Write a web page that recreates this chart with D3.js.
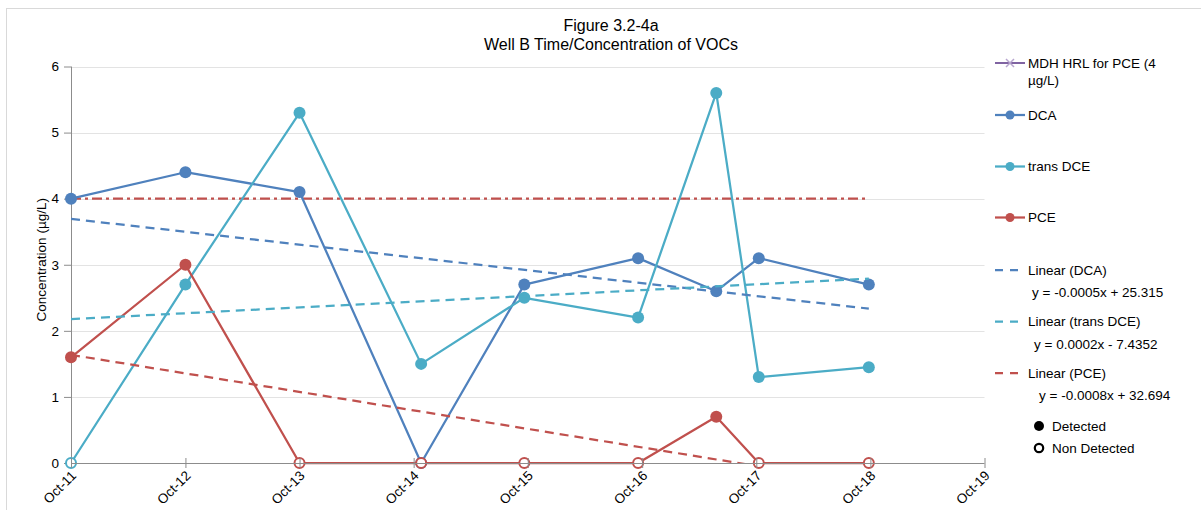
<!DOCTYPE html>
<html>
<head>
<meta charset="utf-8">
<script src="https://cdn.jsdelivr.net/npm/d3@7"></script>
<style>
  html, body { margin: 0; padding: 0; background: #fff; }
  svg { display: block; font-family: "Liberation Sans", Arial, sans-serif; }
</style>
</head>
<body>
<svg id="chart" width="1201" height="510"></svg>
<script>
// Sampling dates for Well B
const sampleDates = ["2011-10-01", "2012-10-01", "2013-10-01", "2014-10-25", "2015-09-20",
                     "2016-09-18", "2017-05-26", "2017-10-09", "2018-09-26"];

// Concentrations (µg/L); a 0 flag marks a non-detect
const dcaValues = [4.0, 4.4, 4.1, 0, 2.7, 3.1, 2.6, 3.1, 2.7];
const dcaDetected = [1, 1, 1, 0, 1, 1, 1, 1, 1];
const transDceValues = [0, 2.7, 5.3, 1.5, 2.5, 2.2, 5.6, 1.3, 1.45];
const transDceDetected = [0, 1, 1, 1, 1, 1, 1, 1, 1];
const pceValues = [1.6, 3.0, 0, 0, 0, 0, 0.7, 0, 0];
const pceDetected = [1, 1, 0, 0, 0, 0, 1, 0, 0];

// MDH health risk limit for PCE
const hrlValues = [4, 4, 4, 4, 4, 4, 4, 4, 4];

// Axis ticks
const xTickLabels = ["Oct-11", "Oct-12", "Oct-13", "Oct-14", "Oct-15", "Oct-16", "Oct-17", "Oct-18", "Oct-19"];
const yTicks = [0, 1, 2, 3, 4, 5, 6];

// Legend text
const seriesNames = ["MDH HRL for PCE (4 µg/L)", "DCA", "trans DCE", "PCE"];
const trendNames = ["Linear (DCA)", "Linear (trans DCE)", "Linear (PCE)"];
const trendEquations = ["y = -0.0005x + 25.315", "y = 0.0002x - 7.4352", "y = -0.0008x + 32.694"];
const markerKeys = ["Detected", "Non Detected"];

const titleLines = ["Figure 3.2-4a", "Well B Time/Concentration of VOCs"];
const yAxisTitle = "Concentration (µg/L)";

const colors = { hrl: "#C0504D", hrlKey: "#8064A2", dca: "#4F81BD", tdce: "#4BACC6", pce: "#C0504D" };

const parse = d3.utcParse("%Y-%m-%d");
const dates = sampleDates.map(parse);
const tickDates = xTickLabels.map(s => {
  const yy = +s.slice(4);
  return new Date(Date.UTC(2000 + yy, 9, 1));
});

const svg = d3.select("#chart");
const W = 1201, H = 510;
const plot = { left: 71, right: 984.5, top: 66.5, bottom: 463 };

svg.append("rect").attr("width", W).attr("height", H).attr("fill", "#fff");
svg.append("rect").attr("x", 6.5).attr("y", 8.5).attr("width", W + 10).attr("height", H + 10)
  .attr("fill", "none").attr("stroke", "#d9d9d9").attr("stroke-width", 1);

const x = d3.scaleUtc().domain([tickDates[0], tickDates[tickDates.length - 1]]).range([plot.left, plot.right]);
const y = d3.scaleLinear().domain([0, 6]).range([plot.bottom, plot.top]);

// Title
const title = svg.append("text").attr("text-anchor", "middle").attr("font-size", 16).attr("fill", "#000");
titleLines.forEach((t, i) => {
  title.append("tspan").attr("x", 611).attr("y", 31 + i * 19).text(t);
});

// Horizontal gridlines
svg.append("g").selectAll("line").data(yTicks.filter(v => v > 0)).join("line")
  .attr("x1", plot.left).attr("x2", plot.right)
  .attr("y1", d => Math.round(y(d)) + 0.5).attr("y2", d => Math.round(y(d)) + 0.5)
  .attr("stroke", "#e3e3e3").attr("stroke-width", 1);

// Y axis
const yAxis = d3.axisLeft(y).tickValues(yTicks).tickSize(7).tickPadding(5).tickFormat(d3.format("d"));
const gy = svg.append("g").attr("transform", `translate(${plot.left},0)`).call(yAxis);
gy.select(".domain").attr("stroke", "#8c8c8c").attr("d", `M0.5,${plot.top}V${plot.bottom}`);
gy.selectAll(".tick line").attr("stroke", "#8c8c8c");
gy.selectAll(".tick text").attr("font-size", 13.5).attr("fill", "#000").attr("font-family", "Liberation Sans, Arial, sans-serif");

// Y axis title
svg.append("text").attr("transform", `translate(46,${(plot.top + plot.bottom) / 2 - 5}) rotate(-90)`)
  .attr("text-anchor", "middle").attr("font-size", 13.5).attr("fill", "#000").text(yAxisTitle);

// Clip area for trendlines
svg.append("clipPath").attr("id", "plotClip").append("rect")
  .attr("x", plot.left).attr("y", plot.top).attr("width", plot.right - plot.left).attr("height", plot.bottom - plot.top);

const lineGen = d3.line().x(d => x(d.date)).y(d => y(d.value));
const rows = vals => vals.map((v, i) => ({ date: dates[i], value: v }));

// HRL reference line
svg.append("path").datum(rows(hrlValues)).attr("d", lineGen)
  .attr("fill", "none").attr("stroke", colors.hrl).attr("stroke-width", 2.25)
  .attr("stroke-dasharray", "10,4,3,4");

// Excel-style linear trend on date serial numbers
const excelSerial = d => d.getTime() / 86400000 + 25569;
function linearFit(vals) {
  const xs = dates.map(excelSerial);
  const mx = d3.mean(xs), my = d3.mean(vals);
  let sxy = 0, sxx = 0;
  xs.forEach((xv, i) => { sxy += (xv - mx) * (vals[i] - my); sxx += (xv - mx) * (xv - mx); });
  const slope = sxy / sxx;
  const intercept = my - slope * mx;
  return [dates[0], dates[dates.length - 1]].map(d => ({ date: d, value: slope * excelSerial(d) + intercept }));
}

const series = [
  { key: "dca", values: dcaValues, detected: dcaDetected, color: colors.dca },
  { key: "tdce", values: transDceValues, detected: transDceDetected, color: colors.tdce },
  { key: "pce", values: pceValues, detected: pceDetected, color: colors.pce }
];

// Series lines and markers
series.forEach(s => {
  const g = svg.append("g");
  g.append("path").datum(rows(s.values)).attr("d", lineGen)
    .attr("fill", "none").attr("stroke", s.color).attr("stroke-width", 2.25).attr("stroke-linejoin", "round");
  const pts = rows(s.values).map((r, i) => ({ ...r, det: s.detected[i] }));
  g.selectAll("circle").data(pts).join("circle")
    .attr("cx", d => x(d.date)).attr("cy", d => y(d.value))
    .attr("r", d => d.det ? 6 : 5)
    .attr("fill", d => d.det ? s.color : "#fff")
    .attr("stroke", s.color)
    .attr("stroke-width", d => d.det ? 0 : 2);
});

// Trendlines
const trendGroup = svg.append("g").attr("clip-path", "url(#plotClip)");
series.forEach(s => {
  trendGroup.append("path").datum(linearFit(s.values)).attr("d", lineGen)
    .attr("fill", "none").attr("stroke", s.color).attr("stroke-width", 2.25)
    .attr("stroke-dasharray", "9,6");
});

// X axis
const xAxis = d3.axisBottom(x).tickValues(tickDates).tickSize(5).tickFormat((d, i) => xTickLabels[i]);
const gx = svg.append("g").attr("transform", `translate(0,${plot.bottom})`).call(xAxis);
gx.select(".domain").attr("stroke", "#8c8c8c").attr("d", `M${plot.left},0.5H${plot.right}`);
gx.selectAll(".tick line").attr("stroke", "#8c8c8c").attr("y1", -5).attr("y2", 5);
gx.selectAll(".tick text")
  .attr("font-size", 13.5).attr("fill", "#000").attr("font-family", "Liberation Sans, Arial, sans-serif")
  .attr("text-anchor", "end").attr("dy", null).attr("y", 0)
  .attr("transform", "translate(3,11) rotate(-45)")
  .attr("dominant-baseline", "middle");

// Legend
const legend = svg.append("g").attr("font-size", 13.5).attr("fill", "#000");
const lx1 = 995, lx2 = 1025, tx = 1028;

// HRL key: purple line with x marker, wrapped label
{
  const ly = 63;
  legend.append("line").attr("x1", lx1).attr("x2", lx2).attr("y1", ly).attr("y2", ly)
    .attr("stroke", colors.hrlKey).attr("stroke-width", 2);
  legend.append("path").attr("d", `M1006,${ly - 4}L1014,${ly + 4}M1006,${ly + 4}L1014,${ly - 4}`)
    .attr("stroke", "#b8a6cf").attr("stroke-width", 1.5);
  const t = legend.append("text").attr("x", tx).attr("y", ly + 4.5);
  const parts = ["MDH HRL for PCE (4", "µg/L)"];
  parts.forEach((p, i) => t.append("tspan").attr("x", tx).attr("dy", i === 0 ? 0 : 17).text(p));
}

// Data series keys
[["dca", 115], ["tdce", 166.5], ["pce", 217.5]].forEach(([k, ly], i) => {
  const col = colors[k];
  legend.append("line").attr("x1", lx1).attr("x2", lx2).attr("y1", ly).attr("y2", ly)
    .attr("stroke", col).attr("stroke-width", 2.25);
  legend.append("circle").attr("cx", 1010).attr("cy", ly).attr("r", 4.5).attr("fill", col);
  legend.append("text").attr("x", tx).attr("y", ly + 4.5).text(seriesNames[i + 1]);
});

// Trendline keys with equations
[[colors.dca, 270, 1032], [colors.tdce, 321.5, 1034], [colors.pce, 373, 1039]].forEach(([col, ly, ex], i) => {
  legend.append("line").attr("x1", lx1).attr("x2", 1019).attr("y1", ly).attr("y2", ly)
    .attr("stroke", col).attr("stroke-width", 2.25).attr("stroke-dasharray", "8,7");
  legend.append("text").attr("x", tx).attr("y", ly + 4.5).text(trendNames[i]);
  legend.append("text").attr("x", ex).attr("y", ly + 27).text(trendEquations[i]);
});

// Detection markers key
legend.append("circle").attr("cx", 1039).attr("cy", 426).attr("r", 5).attr("fill", "#000");
legend.append("text").attr("x", 1052).attr("y", 430.5).text(markerKeys[0]);
legend.append("circle").attr("cx", 1039).attr("cy", 448).attr("r", 4.2).attr("fill", "#fff")
  .attr("stroke", "#000").attr("stroke-width", 2.2);
legend.append("text").attr("x", 1052).attr("y", 452.5).text(markerKeys[1]);
</script>
</body>
</html>
